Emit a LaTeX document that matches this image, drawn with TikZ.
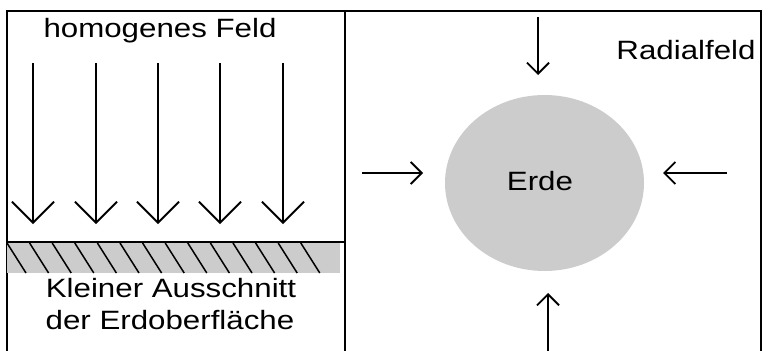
\documentclass[tikz,border=0pt]{standalone}
\usepackage{fontspec}
\setmainfont{Liberation Sans}
\usepackage{graphicx}
\usetikzlibrary{arrows.meta,shapes.geometric}
\definecolor{earthgray}{HTML}{CCCCCC}
\newcommand{\lbl}[1]{\scalebox{1.18}[1]{\fontsize{26.5}{30}\selectfont #1}}
\begin{document}
\begin{tikzpicture}[x=1pt,y=-1pt,
  frame/.style={line width=2pt,black},
  bigarrow/.style={line width=1.8pt,-{Straight Barb[length=21pt,width=42pt,line width=1.8pt]}},
  smallarrow/.style={line width=1.8pt,-{Straight Barb[length=11pt,width=22pt,line width=1.8pt]}},
  txt/.style={inner sep=0pt,anchor=base}]
\useasboundingbox (0,0) rectangle (769,351);
% frame
\draw[frame] (7,351) -- (7,11) -- (761,11) -- (761,351);
\draw[frame,line width=2.6pt] (345,11) -- (345,351);
% left panel
\node[txt] (hom) at (160,37) {\lbl{homogenes Feld}};
\foreach \x [count=\i] in {33,96,158,220,283}{
  \coordinate (s\i) at (\x,63);
  \coordinate (e\i) at (\x,224);
  \draw[bigarrow] (s\i) -- (e\i);
}
\fill[earthgray] (7,243) rectangle (340,273);
\begin{scope}
\clip (7,243) rectangle (340,273);
\foreach \k in {0,...,13}{
  \draw[line width=1.5pt] ({7+22.6*\k},243) -- ({26+22.6*\k},273);
}
\end{scope}
\draw[frame] (7,242) -- (345,242);
\node[txt] (k1) at (171,297) {\lbl{Kleiner Ausschnitt}};
\node[txt] (k2) at (170,329) {\lbl{der Erdoberfläche}};
% right panel
\node[txt] (rad) at (686,59) {\lbl{Radialfeld}};
\node[ellipse,fill=earthgray,minimum width=199pt,minimum height=176pt,inner sep=0pt] (earth) at (544.5,183) {};
\node[txt] (erde) at (540,190) {\lbl{Erde}};
\coordinate (ts) at (538,17);  \coordinate (te) at (538,75);
\coordinate (bs) at (548,351); \coordinate (be) at (548,293);
\coordinate (ls) at (362,173); \coordinate (le) at (423,173);
\coordinate (rs) at (727,173); \coordinate (re) at (663,173);
\draw[smallarrow] (ts) -- (te);
\draw[smallarrow] (bs) -- (be);
\draw[smallarrow] (ls) -- (le);
\draw[smallarrow] (rs) -- (re);
\end{tikzpicture}
\end{document}
